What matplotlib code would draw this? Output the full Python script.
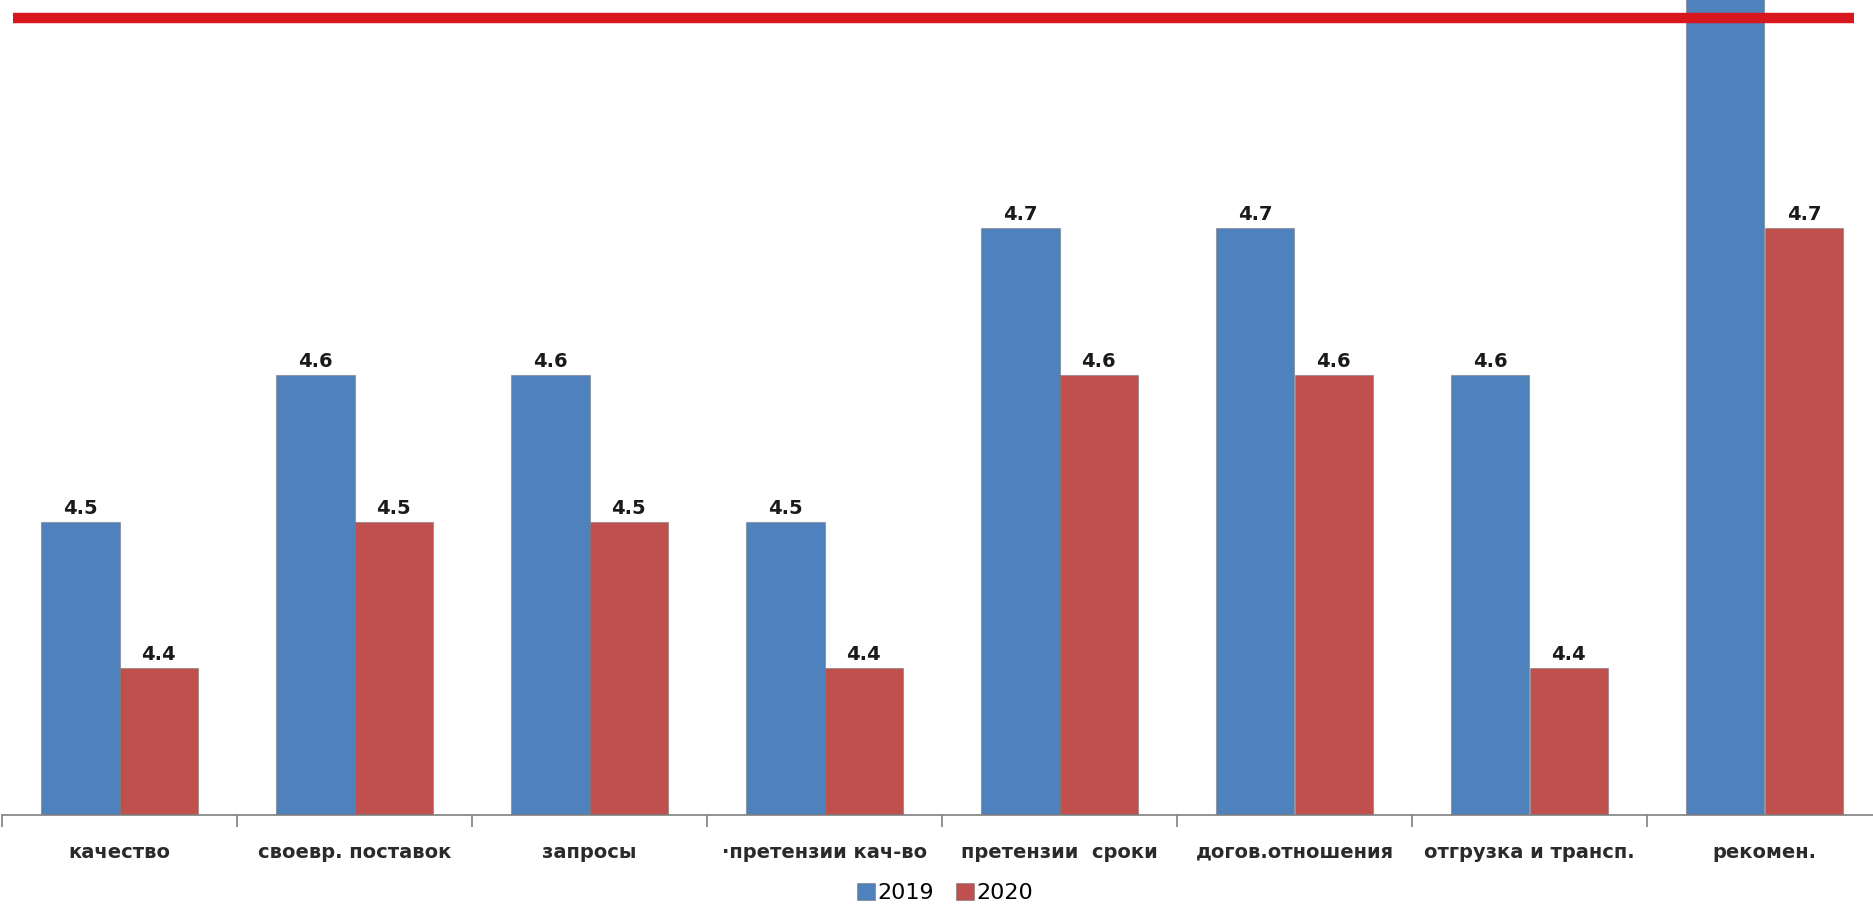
import matplotlib
matplotlib.use("Agg")
import matplotlib.pyplot as plt
import numpy as np

# --- data ----------------------------------------------------------------
categories = [
    "качество",
    "своевр. поставок",
    "запросы",
    "·претензии кач-во",
    "претензии  сроки",
    "догов.отношения",
    "отгрузка и трансп.",
    "рекомен.",
]
years = ["2019", "2020"]
vals_2019 = [4.5, 4.6, 4.6, 4.5, 4.7, 4.7, 4.6, 4.9]
vals_2020 = [4.4, 4.5, 4.5, 4.4, 4.6, 4.6, 4.4, 4.7]

colors = ["#4F81BD", "#C0504D"]
y_min, y_max = 4.3, 4.8557
red_rule_y = 4.8435   # decorative slide line across the top

# --- figure --------------------------------------------------------------
W, H = 1874, 909
fig = plt.figure(figsize=(W / 100, H / 100), dpi=100)
ax = fig.add_axes([2 / W, 94 / H, 1880 / W, 815 / H])

x = np.arange(len(categories))
bw = 0.335
series = [vals_2019, vals_2020]
for i, (yr, vals, c) in enumerate(zip(years, series, colors)):
    bars = ax.bar(x + (i - 0.5) * bw, np.array(vals) - y_min, bw, bottom=y_min,
                  color=c, edgecolor=(0.45, 0.45, 0.45, 0.5), linewidth=0.8,
                  label=yr, zorder=2)
    for b, v in zip(bars, vals):
        if v < y_max:
            ax.annotate(f"{v:.1f}", (b.get_x() + b.get_width() / 2, v),
                        xytext=(0, 3), textcoords="offset points",
                        ha="center", va="bottom", fontsize=14,
                        fontweight="bold", color="#1a1a1a")

ax.set_xlim(-0.5, len(categories) - 0.5)
ax.set_ylim(y_min, y_max)

ax.axhline(red_rule_y, xmin=11 / 1880, xmax=1852 / 1880,
           color="#D8161D", lw=7.5, zorder=5, solid_capstyle="butt")

for s in ["top", "right", "left"]:
    ax.spines[s].set_visible(False)
ax.spines["bottom"].set_color("#7f7f7f")
ax.spines["bottom"].set_linewidth(1.2)
ax.set_yticks([])
ax.set_xticks(x)
ax.set_xticklabels(categories, fontsize=14, fontweight="bold", color="#2a2a2a")
ax.tick_params(axis="x", which="major", length=0, pad=20)
ax.set_xticks(np.arange(-0.5, len(categories)), minor=True)
ax.tick_params(axis="x", which="minor", length=8.5, width=1.2,
               color="#7f7f7f", direction="out")

fig.legend(loc="center", bbox_to_anchor=(945 / W, 1 - 893 / H), ncol=2,
           frameon=False, fontsize=16, handlelength=0.8, handleheight=0.8,
           handletextpad=0.1, columnspacing=1.0, borderaxespad=0)

fig.savefig("out.png", dpi=100)
